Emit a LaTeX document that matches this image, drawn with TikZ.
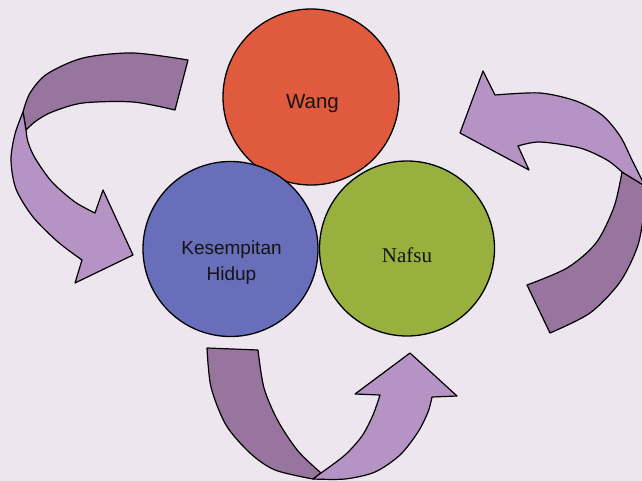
\documentclass[tikz,border=0pt]{standalone}
\usepackage{fontspec}
\setmainfont{Liberation Sans}
\newfontfamily\nafsufont{Liberation Serif}
\definecolor{pagebg}{RGB}{237,230,238}
\definecolor{wangred}{RGB}{224,91,62}
\definecolor{hidupblue}{RGB}{104,110,186}
\definecolor{nafsugreen}{RGB}{151,176,62}
\definecolor{banddark}{RGB}{152,117,158}
\definecolor{bandlight}{RGB}{181,147,196}
\begin{document}
\begin{tikzpicture}[x=1pt,y=-1pt,
    bubble/.style={circle,draw=black,line width=1.3pt,minimum size=175pt,inner sep=0pt},
    backband/.style={fill=banddark,draw=black,line width=1.2pt,line join=round},
    frontband/.style={fill=bandlight,draw=black,line width=1.2pt,line join=round},
    caption/.style={font=\fontsize{19}{26}\selectfont,align=center,text=black!92}]
                \useasboundingbox (0,0) rectangle (642,481);
                \fill [pagebg] (0,0) rectangle (642,481);
                \clip (0,0) rectangle (642,481);

                % left arrow
                \filldraw [backband] plot[smooth] coordinates {(188,60) (133,53) (83,58) (47,74) (30,93) (23,112)}
                    -- plot[smooth] coordinates {(26,130) (36,121) (52,112) (83,103) (133,102) (175,110)} -- cycle;
                \filldraw [frontband] plot[smooth] coordinates {(23,112) (15,134) (11,160) (16,189) (33,217) (58,242) (82,260)}
                    -- (75,283) -- (133,255) -- (103,190) -- (95,213)
                    -- plot[smooth] coordinates {(95,213) (75,202) (52,182) (35,158) (28,142) (26,130)} -- cycle;

                % right arrow
                \filldraw [backband] plot[smooth] coordinates {(622,172) (614,207) (596,243) (567,268) (527,285)}
                    -- (550,333) -- plot[smooth] coordinates {(550,333) (590,313) (620,282) (638,245) (645,205)}
                    -- (645,186) -- cycle;
                \filldraw [frontband] (460,133) -- (483,71) -- (495,95)
                    -- plot[smooth] coordinates {(495,95) (540,93) (576,101) (602,115) (620,136) (632,160) (645,186)}
                    -- (622,172)
                    -- plot[smooth] coordinates {(622,172) (607,160) (580,148) (540,142) (518,146)}
                    -- (529,170) -- cycle;

                % bottom arrow
                \filldraw [backband] plot[smooth] coordinates {(207,348) (211,387) (226,425) (250,453) (275,470) (313,479)}
                    -- (321,473) -- plot[smooth] coordinates {(321,473) (298,451) (278,421) (264,388) (258,350)} -- cycle;
                \filldraw [frontband] plot[smooth] coordinates {(313,479) (345,479) (375,472) (400,455) (418,432) (428,412) (432,397)}
                    -- (457,396) -- (410,353) -- (355,394) -- (380,395)
                    -- plot[smooth] coordinates {(380,395) (373,415) (362,436) (345,455) (321,473)} -- cycle;

                % circles
                \node [bubble, fill=wangred, minimum size=176pt] (wang) at (311,97) {};
                \node [bubble, fill=hidupblue] (hidup) at (230.5,249) {};
                \node [bubble, fill=nafsugreen] (nafsu) at (407,248.5) {};

                \node [caption, font=\fontsize{20.5}{24}\selectfont] (wangtext) at (312.5,104) {Wang};
                \node [caption] (hiduptext) at (231.5,263) {Kesempitan\\Hidup};
                \node [caption, font=\fontsize{21}{24}\nafsufont] (nafsutext) at (407,255) {Nafsu};
            \end{tikzpicture}
\end{document}
